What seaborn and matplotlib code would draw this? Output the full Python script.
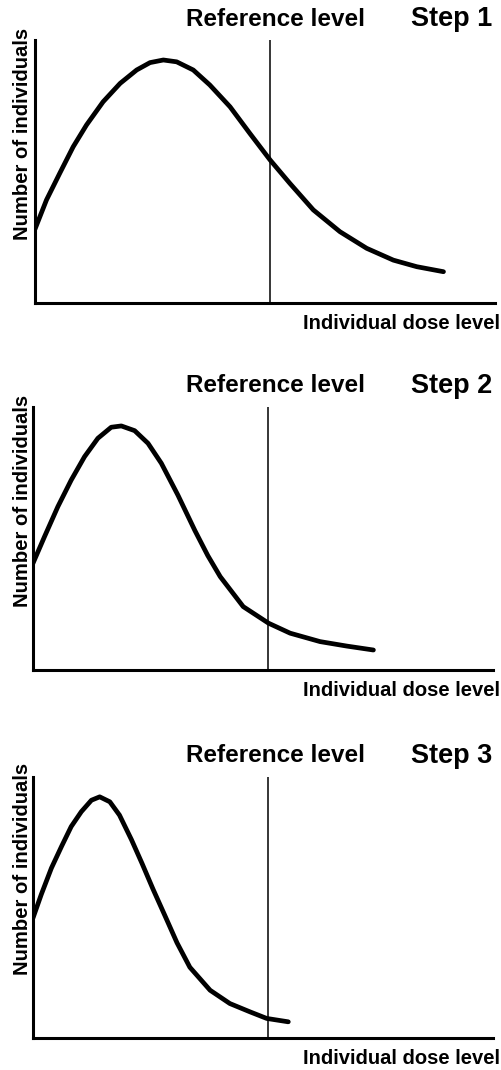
import numpy as np
import pandas as pd
import matplotlib
matplotlib.use("Agg")
import matplotlib.pyplot as plt
import seaborn as sns

# curve points (dose level 0-10, number of individuals 0-100)
step1_x = [0.0, 0.25, 0.54, 0.83, 1.12, 1.48, 1.85, 2.21, 2.50, 2.79, 3.08, 3.44,
           3.80, 4.24, 4.67, 5.11, 5.54, 6.05, 6.63, 7.21, 7.79, 8.30, 8.88]
step1_y = [28.1, 39.2, 49.4, 59.4, 67.7, 76.5, 83.5, 88.6, 91.4, 92.4, 91.7, 88.6,
           82.9, 74.6, 64.5, 54.4, 45.5, 35.4, 27.1, 20.8, 16.3, 13.8, 11.9]

step2_x = [0.0, 0.25, 0.54, 0.83, 1.12, 1.41, 1.70, 1.92, 2.21, 2.50, 2.79, 3.15,
           3.52, 3.80, 4.07, 4.57, 5.12, 5.59, 6.24, 6.82, 7.40]
step2_y = [40.6, 50.7, 62.1, 72.2, 81.1, 88.1, 92.3, 92.8, 91.0, 86.2, 78.6, 66.5,
           53.0, 43.5, 35.5, 24.1, 17.8, 14.0, 10.8, 9.1, 7.6]

step3_x = [0.0, 0.18, 0.40, 0.62, 0.83, 1.05, 1.27, 1.45, 1.67, 1.88, 2.14, 2.37,
           2.61, 2.87, 3.13, 3.41, 3.85, 4.28, 4.72, 5.08, 5.55]
step3_y = [46.0, 55.0, 65.1, 73.4, 81.0, 86.7, 91.1, 92.4, 90.5, 85.4, 76.0, 66.9,
           57.0, 46.8, 36.5, 27.1, 18.3, 13.2, 10.0, 7.5, 6.2]

reference_level = 5.1
steps = ["Step 1", "Step 2", "Step 3"]

sns.set_theme(style="white")
plt.rcParams['font.family'] = ['Liberation Sans', 'DejaVu Sans']
plt.rcParams['text.color'] = 'black'

fig = plt.figure(figsize=(5.02, 10.70), dpi=100)
W, H = 502, 1070

# axes boxes in pixels: left, axis-bottom y, axis-top y
boxes = [(35, 303, 40), (33, 670, 407), (33, 1038, 777)]
ylabel_centers = [134, 501, 869]
curves = [(step1_x, step1_y), (step2_x, step2_y), (step3_x, step3_y)]

for i, ((left, bot, top), (xs, ys)) in enumerate(zip(boxes, curves)):
    ax = fig.add_axes([left / W, 1 - bot / H, 460 / W, (bot - top) / H])
    df = pd.DataFrame({"dose": xs, "count": ys})
    sns.lineplot(data=df, x="dose", y="count", sort=False, color="black",
                 linewidth=3.4, ax=ax, solid_capstyle="round",
                 solid_joinstyle="round")
    ax.axvline(reference_level, color="black", linewidth=1.1)
    ax.set_xlim(0, 10)
    ax.set_ylim(0, 100)
    ax.set_xticks([])
    ax.set_yticks([])
    ax.set_xlabel("")
    ax.set_ylabel("")
    sns.despine(ax=ax)
    for s in ["left", "bottom"]:
        ax.spines[s].set_linewidth(2.2)
        ax.spines[s].set_color("black")

    fig.text(276 / W, 1 - (top - 21) / H, "Reference level", ha="center",
             va="center", fontsize=17.5, fontweight="bold")
    fig.text(492 / W, 1 - (top - 21) / H, steps[i], ha="right",
             va="center", fontsize=19.5, fontweight="bold")
    fig.text(500 / W, 1 - (bot + 20) / H, "Individual dose level", ha="right",
             va="center", fontsize=14.5, fontweight="bold")
    fig.text(23 / W, 1 - ylabel_centers[i] / H, "Number of individuals",
             rotation=90, ha="center", va="center", fontsize=14.6,
             fontweight="bold")

fig.savefig("out.png", dpi=100)
